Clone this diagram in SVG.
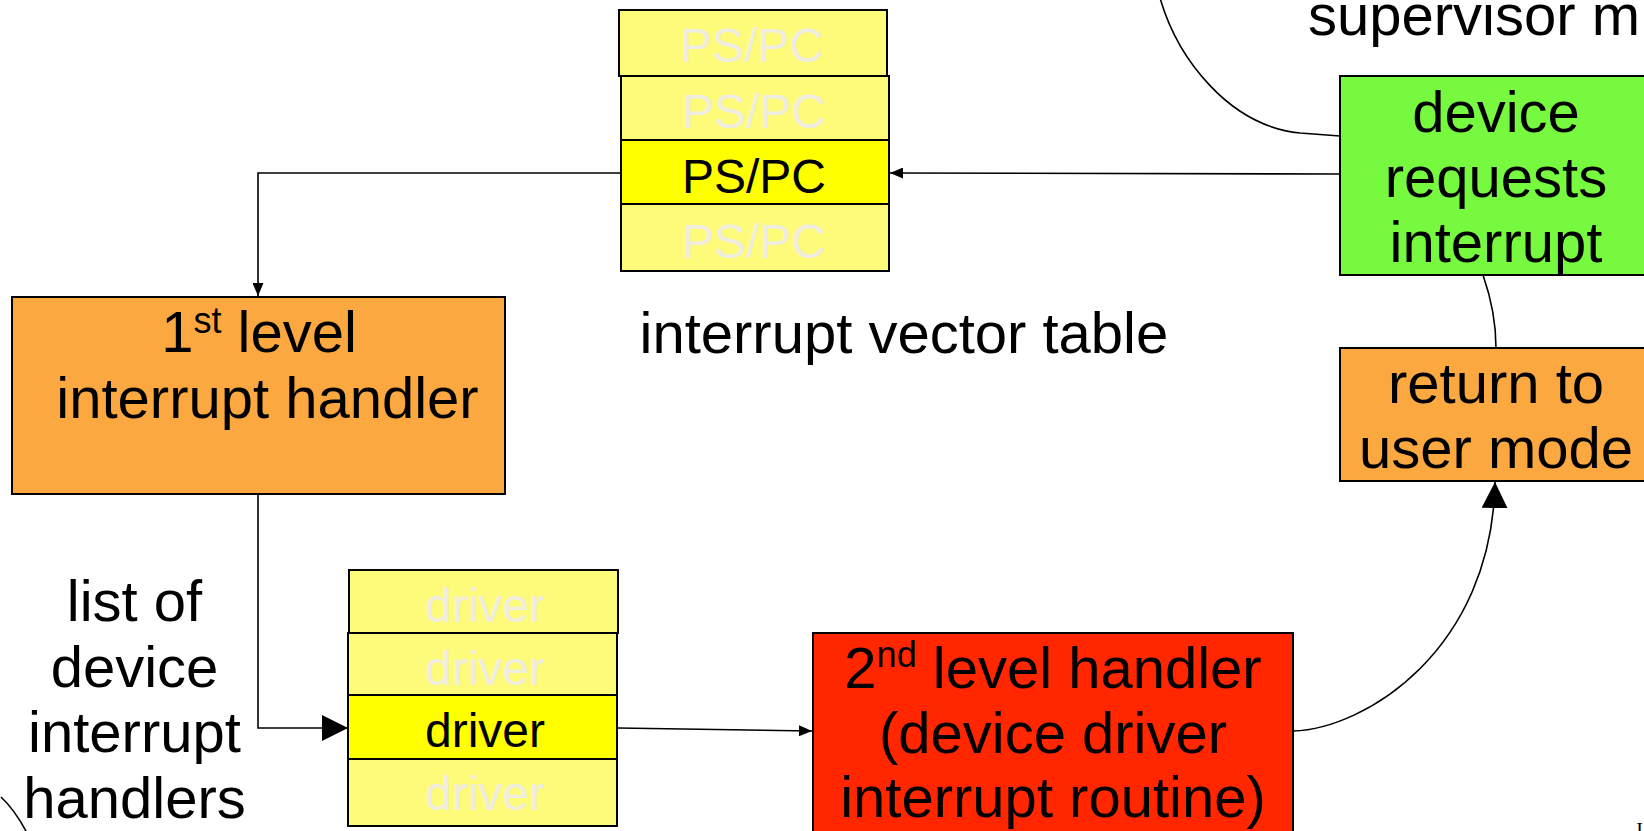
<svg xmlns="http://www.w3.org/2000/svg" width="1644" height="831" viewBox="0 0 1644 831">
<style>
text{font-family:"Liberation Sans",Arial,sans-serif;fill:#000}
.big{font-size:58px}
.cell{font-size:48px;text-anchor:middle}
.ghost{fill:#EFECE0}
.mid{text-anchor:middle}
.box{stroke:#000;stroke-width:2}
.ln{fill:none;stroke:#000;stroke-width:1.6}
</style>
<defs>
<marker id="sm" markerUnits="userSpaceOnUse" markerWidth="13" markerHeight="11" refX="13" refY="5.5" orient="auto"><path d="M0,0 L13,5.5 L0,11 z" fill="#000"/></marker>
<marker id="bg" markerUnits="userSpaceOnUse" markerWidth="26" markerHeight="26" refX="26" refY="13" orient="auto"><path d="M0,0 L26,13 L0,26 z" fill="#000"/></marker>
</defs>

<g id="connectors">
<path class="ln" d="M1340,174 L890,173" marker-end="url(#sm)"/>
<path class="ln" d="M621,173 L258,173 L258,296" marker-end="url(#sm)"/>
<path class="ln" d="M258,494 L258,728 L348,728" marker-end="url(#bg)"/>
<path class="ln" d="M618,728 L812,731" marker-end="url(#sm)"/>
<path class="ln" d="M1293,731 C1365,729 1492,650 1495,482" marker-end="url(#bg)"/>
<path class="ln" d="M1483,275 C1490,295 1496,320 1496,348"/>
<path class="ln" d="M1340,136 L1300,133 C1230,126 1178,60 1160,-2"/>
<path class="ln" d="M1,797 Q15,810 27,833"/>
</g>

<g id="supervisor">
<text class="big" x="1308" y="35">supervisor m</text>
</g>

<g id="vector-table">
<rect class="box" x="619" y="10" width="268" height="66" fill="#FFFB7A"/>
<text class="cell ghost" x="752" y="62">PS/PC</text>
<rect class="box" x="621" y="76" width="268" height="64" fill="#FFFB7A"/>
<text class="cell ghost" x="754" y="128">PS/PC</text>
<rect class="box" x="621" y="140" width="268" height="64" fill="#FFFF00"/>
<text class="cell" x="754" y="193">PS/PC</text>
<rect class="box" x="621" y="204" width="268" height="67" fill="#FFFB7A"/>
<text class="cell ghost" x="754" y="258">PS/PC</text>
</g>

<g id="vector-table-label">
<text class="big" x="639.5" y="353">interrupt vector table</text>
</g>

<g id="first-level">
<rect class="box" x="12" y="297" width="493" height="197" fill="#FCA840"/>
<text class="big mid" x="259" y="352">1<tspan font-size="36" dy="-19">st</tspan><tspan dy="19"> level</tspan></text>
<text class="big mid" x="267.5" y="418">interrupt handler</text>
</g>

<g id="list-label">
<text class="big mid" x="134.5" y="621">list of</text>
<text class="big mid" x="134.5" y="687">device</text>
<text class="big mid" x="134.5" y="752">interrupt</text>
<text class="big mid" x="134.5" y="818">handlers</text>
</g>

<g id="driver-table">
<rect class="box" x="349" y="570" width="269" height="63" fill="#FFFB7A"/>
<text class="cell ghost" x="485" y="622">driver</text>
<rect class="box" x="348" y="633" width="269" height="62" fill="#FFFB7A"/>
<text class="cell ghost" x="485" y="685">driver</text>
<rect class="box" x="348" y="695" width="269" height="64" fill="#FFFF00"/>
<text class="cell" x="485" y="747">driver</text>
<rect class="box" x="348" y="759" width="269" height="67" fill="#FFFB7A"/>
<text class="cell ghost" x="485" y="810">driver</text>
</g>

<g id="second-level">
<rect class="box" x="813" y="633" width="480" height="200" fill="#FF2600"/>
<text class="big mid" x="1053" y="688">2<tspan font-size="36" dy="-21">nd</tspan><tspan dy="21"> level handler</tspan></text>
<text class="big mid" x="1053" y="753">(device driver</text>
<text class="big mid" x="1053" y="817">interrupt routine)</text>
</g>

<g id="device-request">
<rect class="box" x="1340" y="76" width="312" height="199" fill="#76F93F"/>
<text class="big mid" x="1496" y="132">device</text>
<text class="big mid" x="1496" y="197">requests</text>
<text class="big mid" x="1496" y="262">interrupt</text>
</g>

<g id="return-user">
<rect class="box" x="1340" y="348" width="312" height="133" fill="#FCA840"/>
<text class="big mid" x="1496" y="403">return to</text>
<text class="big mid" x="1496" y="468">user mode</text>
</g>

<g id="corner-mark">
<text x="1639.5" y="837" font-family="Liberation Serif" font-size="20" text-anchor="middle" style="font-family:'Liberation Serif',serif">I</text>
</g>
</svg>
